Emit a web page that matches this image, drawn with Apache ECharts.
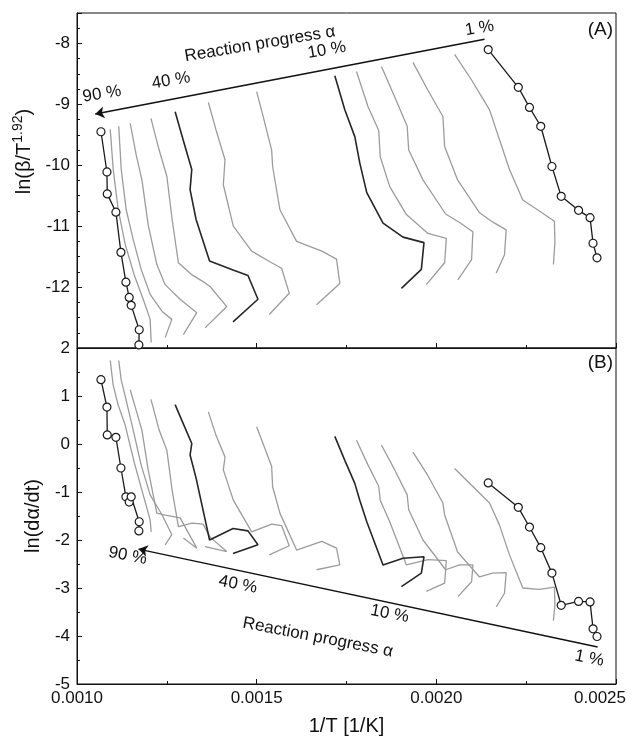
<!DOCTYPE html>
<html lang="en">
<head>
  <meta charset="UTF-8">
  <title>isoconversional plots</title>
  <style>
    * {
      margin: 0;
      padding: 0;
    }
    #main {
      width: 633px;
      height: 737px;
    }
  </style>
</head>
<body>
  <div id="main"></div>
  <script src="https://cdn.jsdelivr.net/npm/echarts@6/dist/echarts.min.js"></script>
  <script>
    // every curve: 1/T of the runs, ln(beta/T^1.92) (panel A), ln(da/dt) (panel B)
    // 90 % (circles)
    var invT_90 = [0.0010667, 0.0010833, 0.0010842, 0.0011083, 0.0011222, 0.0011361, 0.0011453, 0.0011508, 0.0011731, 0.0011722];
    var lnBT_90 = [-9.45, -10.11, -10.47, -10.77, -11.43, -11.92, -12.17, -12.30, -12.70, -12.95];
    var lnRate_90 = [1.34, 0.77, 0.19, 0.14, -0.50, -1.10, -1.21, -1.10, -1.62, -1.81];

    var invT_g1 = [0.0010925, 0.0011008, 0.0011147, 0.0011342, 0.0011592, 0.0011842, 0.0012036, 0.0012064];
    var lnBT_g1 = [-9.41, -10.07, -10.73, -11.30, -11.80, -12.20, -12.53, -12.91];
    var lnRate_g1 = [1.74, 1.22, 0.81, 0.39, -0.38, -1.06, -1.58, -1.83];

    var invT_g2 = [0.0011161, 0.0011231, 0.0011369, 0.0011564, 0.0011786, 0.0012036, 0.0012369, 0.0012639, 0.0012453];
    var lnBT_g2 = [-9.36, -10.07, -10.73, -11.22, -11.71, -12.12, -12.40, -12.53, -12.83];
    var lnRate_g2 = [1.74, 1.33, 0.91, 0.29, -0.44, -1.06, -1.48, -1.89, -2.10];

    var invT_g3 = [0.0011481, 0.0011647, 0.0011806, 0.0011981, 0.0012222, 0.0012453, 0.0012869, 0.0013333, 0.0012961];
    var lnBT_g3 = [-9.31, -9.83, -10.24, -10.98, -11.63, -11.96, -12.20, -12.42, -12.78];
    var lnRate_g3 = [1.13, 0.70, 0.29, -0.54, -1.44, -1.48, -1.54, -2.17, -1.96];

    var invT_g4 = [0.0012058, 0.0012286, 0.0012500, 0.0012647, 0.0012822, 0.0013203, 0.0013508, 0.0013703, 0.0014167, 0.0013564];
    var lnBT_g4 = [-9.23, -9.75, -10.18, -10.89, -11.60, -11.80, -11.91, -11.99, -12.32, -12.67];
    var lnRate_g4 = [0.93, 0.29, -0.13, -0.96, -1.72, -1.65, -1.67, -1.94, -2.24, -2.14];

    // 40 % (dark)
    var invT_40 = [0.0012731, 0.0012953, 0.0013194, 0.0013147, 0.0013314, 0.0013689, 0.0014342, 0.0014758, 0.0015036, 0.0014342];
    var lnBT_40 = [-9.12, -9.58, -10.07, -10.40, -10.89, -11.57, -11.72, -11.81, -12.20, -12.57];
    var lnRate_40 = [0.82, 0.43, 0.01, -0.23, -0.71, -2.00, -1.76, -1.81, -2.10, -2.28];

    var invT_g6 = [0.0013656, 0.0013869, 0.0014119, 0.0014072, 0.0014350, 0.0014861, 0.0015417, 0.0015694, 0.0015906, 0.0015350];
    var lnBT_g6 = [-8.97, -9.42, -9.91, -10.32, -11.00, -11.41, -11.60, -11.69, -12.10, -12.45];
    var lnRate_g6 = [0.67, 0.18, -0.27, -0.54, -1.17, -1.83, -1.67, -1.70, -2.12, -2.31];

    var invT_g7 = [0.0015000, 0.0015203, 0.0015417, 0.0015444, 0.0015647, 0.0016111, 0.0016814, 0.0017222, 0.0017314, 0.0016667];
    var lnBT_g7 = [-8.79, -9.25, -9.75, -10.02, -10.73, -11.25, -11.41, -11.54, -11.94, -12.29];
    var lnRate_g7 = [0.36, -0.04, -0.47, -0.89, -1.44, -2.21, -2.03, -2.17, -2.52, -2.62];

    // 10 % (dark)
    var invT_10 = [0.0017175, 0.0017453, 0.0017731, 0.0017869, 0.0018064, 0.0018517, 0.0019072, 0.0019656, 0.0019583, 0.0019028];
    var lnBT_10 = [-8.53, -9.09, -9.53, -9.96, -10.45, -10.95, -11.18, -11.27, -11.71, -12.02];
    var lnRate_10 = [0.16, -0.34, -0.82, -1.17, -1.62, -2.52, -2.38, -2.35, -2.69, -2.97];

    var invT_g9 = [0.0017778, 0.0018100, 0.0018397, 0.0018439, 0.0018703, 0.0019167, 0.0019767, 0.0020278, 0.0020231, 0.0019722];
    var lnBT_g9 = [-8.46, -9.04, -9.43, -9.86, -10.35, -10.81, -11.12, -11.20, -11.60, -11.96];
    var lnRate_g9 = [0.08, -0.44, -0.88, -1.17, -1.62, -2.52, -2.41, -2.43, -2.90, -3.07];

    var invT_g10 = [0.0018472, 0.0018842, 0.0019189, 0.0019231, 0.0019628, 0.0020258, 0.0020647, 0.0021017, 0.0020981, 0.0020600];
    var lnBT_g10 = [-8.38, -8.88, -9.36, -9.75, -10.24, -10.80, -10.94, -11.09, -11.55, -11.88];
    var lnRate_g10 = [-0.02, -0.54, -1.06, -1.37, -2.00, -2.62, -2.52, -2.52, -2.87, -3.18];

    var invT_g11 = [0.0019350, 0.0019758, 0.0020183, 0.0020231, 0.0020592, 0.0021203, 0.0021564, 0.0021944, 0.0021897, 0.0021667];
    var lnBT_g11 = [-8.31, -8.76, -9.20, -9.69, -10.24, -10.78, -10.93, -11.06, -11.47, -11.77];
    var lnRate_g11 = [-0.17, -0.65, -1.23, -1.48, -2.25, -2.77, -2.69, -2.68, -3.11, -3.39];

    var invT_g12 = [0.0020508, 0.0020981, 0.0021481, 0.0021758, 0.0022036, 0.0022406, 0.0022869, 0.0023286, 0.0023300, 0.0023258];
    var lnBT_g12 = [-8.18, -8.60, -9.09, -9.58, -10.07, -10.57, -10.75, -10.92, -11.27, -11.63];
    var lnRate_g12 = [-0.51, -0.86, -1.23, -1.69, -2.31, -3.00, -3.03, -2.98, -3.35, -3.68];

    // 1 % (circles)
    var invT_1 = [0.0021444, 0.0022281, 0.0022592, 0.0022906, 0.0023217, 0.0023475, 0.0023958, 0.0024278, 0.0024361, 0.0024472];
    var lnBT_1 = [-8.10, -8.72, -9.05, -9.36, -10.02, -10.51, -10.74, -10.86, -11.28, -11.52];
    var lnRate_1 = [-0.81, -1.32, -1.73, -2.16, -2.69, -3.36, -3.28, -3.29, -3.85, -4.01];

    // arrows: [start, tip] in data units
    var arrowA = [[0.0021342, -7.93], [0.0010508, -9.16]];
    var arrowB = [[0.0024489, -4.23], [0.0011711, -2.19]];

    // notes: text, 1/T, y
    var notesA = [['Reaction progress α', 0.0015092, -8.01], ['1 %', 0.0021203, -7.75], ['10 %', 0.0016953, -8.11], ['40 %', 0.0012619, -8.61], ['90 %', 0.0010694, -8.83]];
    var notesB = [['90 %', 0.0011411, -2.33], ['40 %', 0.0014481, -2.93], ['10 %', 0.0018703, -3.54], ['Reaction progress α', 0.0016703, -4.03], ['1 %', 0.0024258, -4.47]];

    var xTicks = [0.0010, 0.0015, 0.0020, 0.0025];

    var FONT = '"Liberation Sans", Arial, Helvetica, sans-serif';
    var INK = '#111';

    var curves = [
      [invT_90, lnBT_90, lnRate_90, 'ring'],
      [invT_g1, lnBT_g1, lnRate_g1, 'gray'],
      [invT_g2, lnBT_g2, lnRate_g2, 'gray'],
      [invT_g3, lnBT_g3, lnRate_g3, 'gray'],
      [invT_g4, lnBT_g4, lnRate_g4, 'gray'],
      [invT_40, lnBT_40, lnRate_40, 'dark'],
      [invT_g6, lnBT_g6, lnRate_g6, 'gray'],
      [invT_g7, lnBT_g7, lnRate_g7, 'gray'],
      [invT_10, lnBT_10, lnRate_10, 'dark'],
      [invT_g9, lnBT_g9, lnRate_g9, 'gray'],
      [invT_g10, lnBT_g10, lnRate_g10, 'gray'],
      [invT_g11, lnBT_g11, lnRate_g11, 'gray'],
      [invT_g12, lnBT_g12, lnRate_g12, 'gray'],
      [invT_1, lnBT_1, lnRate_1, 'ring']
    ];

    var looks = {
      gray: { color: '#9c9c9c', width: 1.3, z: 2 },
      dark: { color: '#262626', width: 1.6, z: 3 },
      ring: { color: '#1a1a1a', width: 1.3, z: 4 }
    };

    function pairs(xs, ys) {
      return xs.map(function (v, i) { return [v, ys[i]]; });
    }

    function arrowLine(a) {
      return {
        silent: true,
        animation: false,
        symbol: ['none', 'arrow'],
        symbolSize: 9,
        label: { show: false },
        lineStyle: { color: INK, width: 1.5, type: 'solid' },
        data: [[{ coord: a[0] }, { coord: a[1] }]]
      };
    }

    var series = [];
    curves.forEach(function (c, idx) {
      var look = looks[c[3]];
      [1, 2].forEach(function (k) {
        var s = {
          type: 'line',
          xAxisIndex: k - 1,
          yAxisIndex: k - 1,
          data: pairs(c[0], c[k]),
          z: look.z,
          silent: true,
          lineStyle: { color: look.color, width: look.width },
          symbol: c[3] === 'ring' ? 'circle' : 'none',
          symbolSize: 8,
          showSymbol: c[3] === 'ring',
          itemStyle: { color: '#fff', borderColor: look.color, borderWidth: 1.2 }
        };
        if (idx === curves.length - 1) { // arrows ride on the 1 % series
          s.markLine = arrowLine(k === 1 ? arrowA : arrowB);
        }
        series.push(s);
      });
    });

    var axisLine = { show: true, onZero: false, lineStyle: { color: INK, width: 1 } };

    function xAxis(gi, labels) {
      return {
        gridIndex: gi,
        type: 'value',
        min: xTicks[0],
        max: xTicks[xTicks.length - 1],
        interval: 0.0005,
        axisLine: axisLine,
        axisTick: { show: true, inside: true, length: 5, lineStyle: { color: INK } },
        minorTick: { show: true, splitNumber: 2, length: 3, lineStyle: { color: INK } },
        splitLine: { show: false },
        axisLabel: {
          show: labels,
          fontSize: 17,
          color: INK,
          fontFamily: FONT,
          margin: 6,
          formatter: function (v) {
            var s = v.toFixed(4);
            return v >= xTicks[xTicks.length - 1] ? '{edge|' + s + '}' : s;
          },
          rich: { edge: { fontSize: 17, fontFamily: FONT, color: INK, padding: [0, 32, 0, 0] } }
        },
        name: labels ? '1/T [1/K]' : '',
        nameLocation: 'middle',
        nameGap: 32,
        nameTextStyle: { fontSize: 20, color: INK, fontFamily: FONT }
      };
    }

    var option = {
      animation: false,
      textStyle: { fontFamily: FONT },
      grid: [
        { left: 77, right: 17, top: 13, height: 335, show: true, borderColor: INK, borderWidth: 1 },
        { left: 77, right: 17, top: 348, height: 336, show: true, borderColor: INK, borderWidth: 1 }
      ],
      xAxis: [xAxis(0, false), xAxis(1, true)],
      yAxis: [
        {
          gridIndex: 0,
          type: 'value',
          min: -13,
          max: -7.5,
          interval: 1,
          axisLine: axisLine,
          axisTick: { show: true, inside: true, length: 5, lineStyle: { color: INK } },
          minorTick: { show: true, splitNumber: 4, length: 3, lineStyle: { color: INK } },
          splitLine: { show: false },
          axisLabel: {
            fontSize: 17, color: INK, fontFamily: FONT, margin: 7,
            formatter: function (v) { return (v % 1 === 0 && v > -13) ? String(v) : ''; }
          },
          name: '{b|ln(β/T}{sup|1.92}{b|)}',
          nameLocation: 'middle',
          nameGap: 36,
          nameTextStyle: {
            color: INK,
            fontFamily: FONT,
            padding: [0, 0, 0, 58],
            rich: {
              b: { fontSize: 20, fontFamily: FONT, color: INK, verticalAlign: 'bottom' },
              sup: { fontSize: 14, fontFamily: FONT, color: INK, verticalAlign: 'top', padding: [0, 0, 9, 0] }
            }
          }
        },
        {
          gridIndex: 1,
          type: 'value',
          min: -5,
          max: 2,
          interval: 1,
          axisLine: axisLine,
          axisTick: { show: true, inside: true, length: 5, lineStyle: { color: INK } },
          minorTick: { show: true, splitNumber: 2, length: 3, lineStyle: { color: INK } },
          splitLine: { show: false },
          axisLabel: { fontSize: 17, color: INK, fontFamily: FONT, margin: 7 },
          name: 'ln(dα/dt)',
          nameLocation: 'middle',
          nameGap: 34,
          nameTextStyle: { fontSize: 20, color: INK, fontFamily: FONT }
        }
      ],
      series: series
    };

    var myChart = echarts.init(document.getElementById('main'));
    myChart.setOption(option);

    // notes along the arrows, placed through the axes
    var graphics = [];
    function addNotes(list, gi, deg) {
      list.forEach(function (n) {
        var p = myChart.convertToPixel({ gridIndex: gi }, [n[1], n[2]]);
        graphics.push({
          type: 'text',
          x: p[0],
          y: p[1],
          rotation: deg * Math.PI / 180,
          z: 10,
          silent: true,
          style: { text: n[0], font: '17px ' + FONT, fill: INK, align: 'center', verticalAlign: 'middle' }
        });
      });
    }
    addNotes(notesA, 0, 9.5);
    addNotes(notesB, 1, -11);
    graphics.push({ type: 'text', right: 20, top: 20, z: 10, silent: true, style: { text: '(A)', font: '19px ' + FONT, fill: INK } });
    graphics.push({ type: 'text', right: 20, top: 353, z: 10, silent: true, style: { text: '(B)', font: '19px ' + FONT, fill: INK } });
    myChart.setOption({ graphic: graphics });
  </script>
</body>
</html>
